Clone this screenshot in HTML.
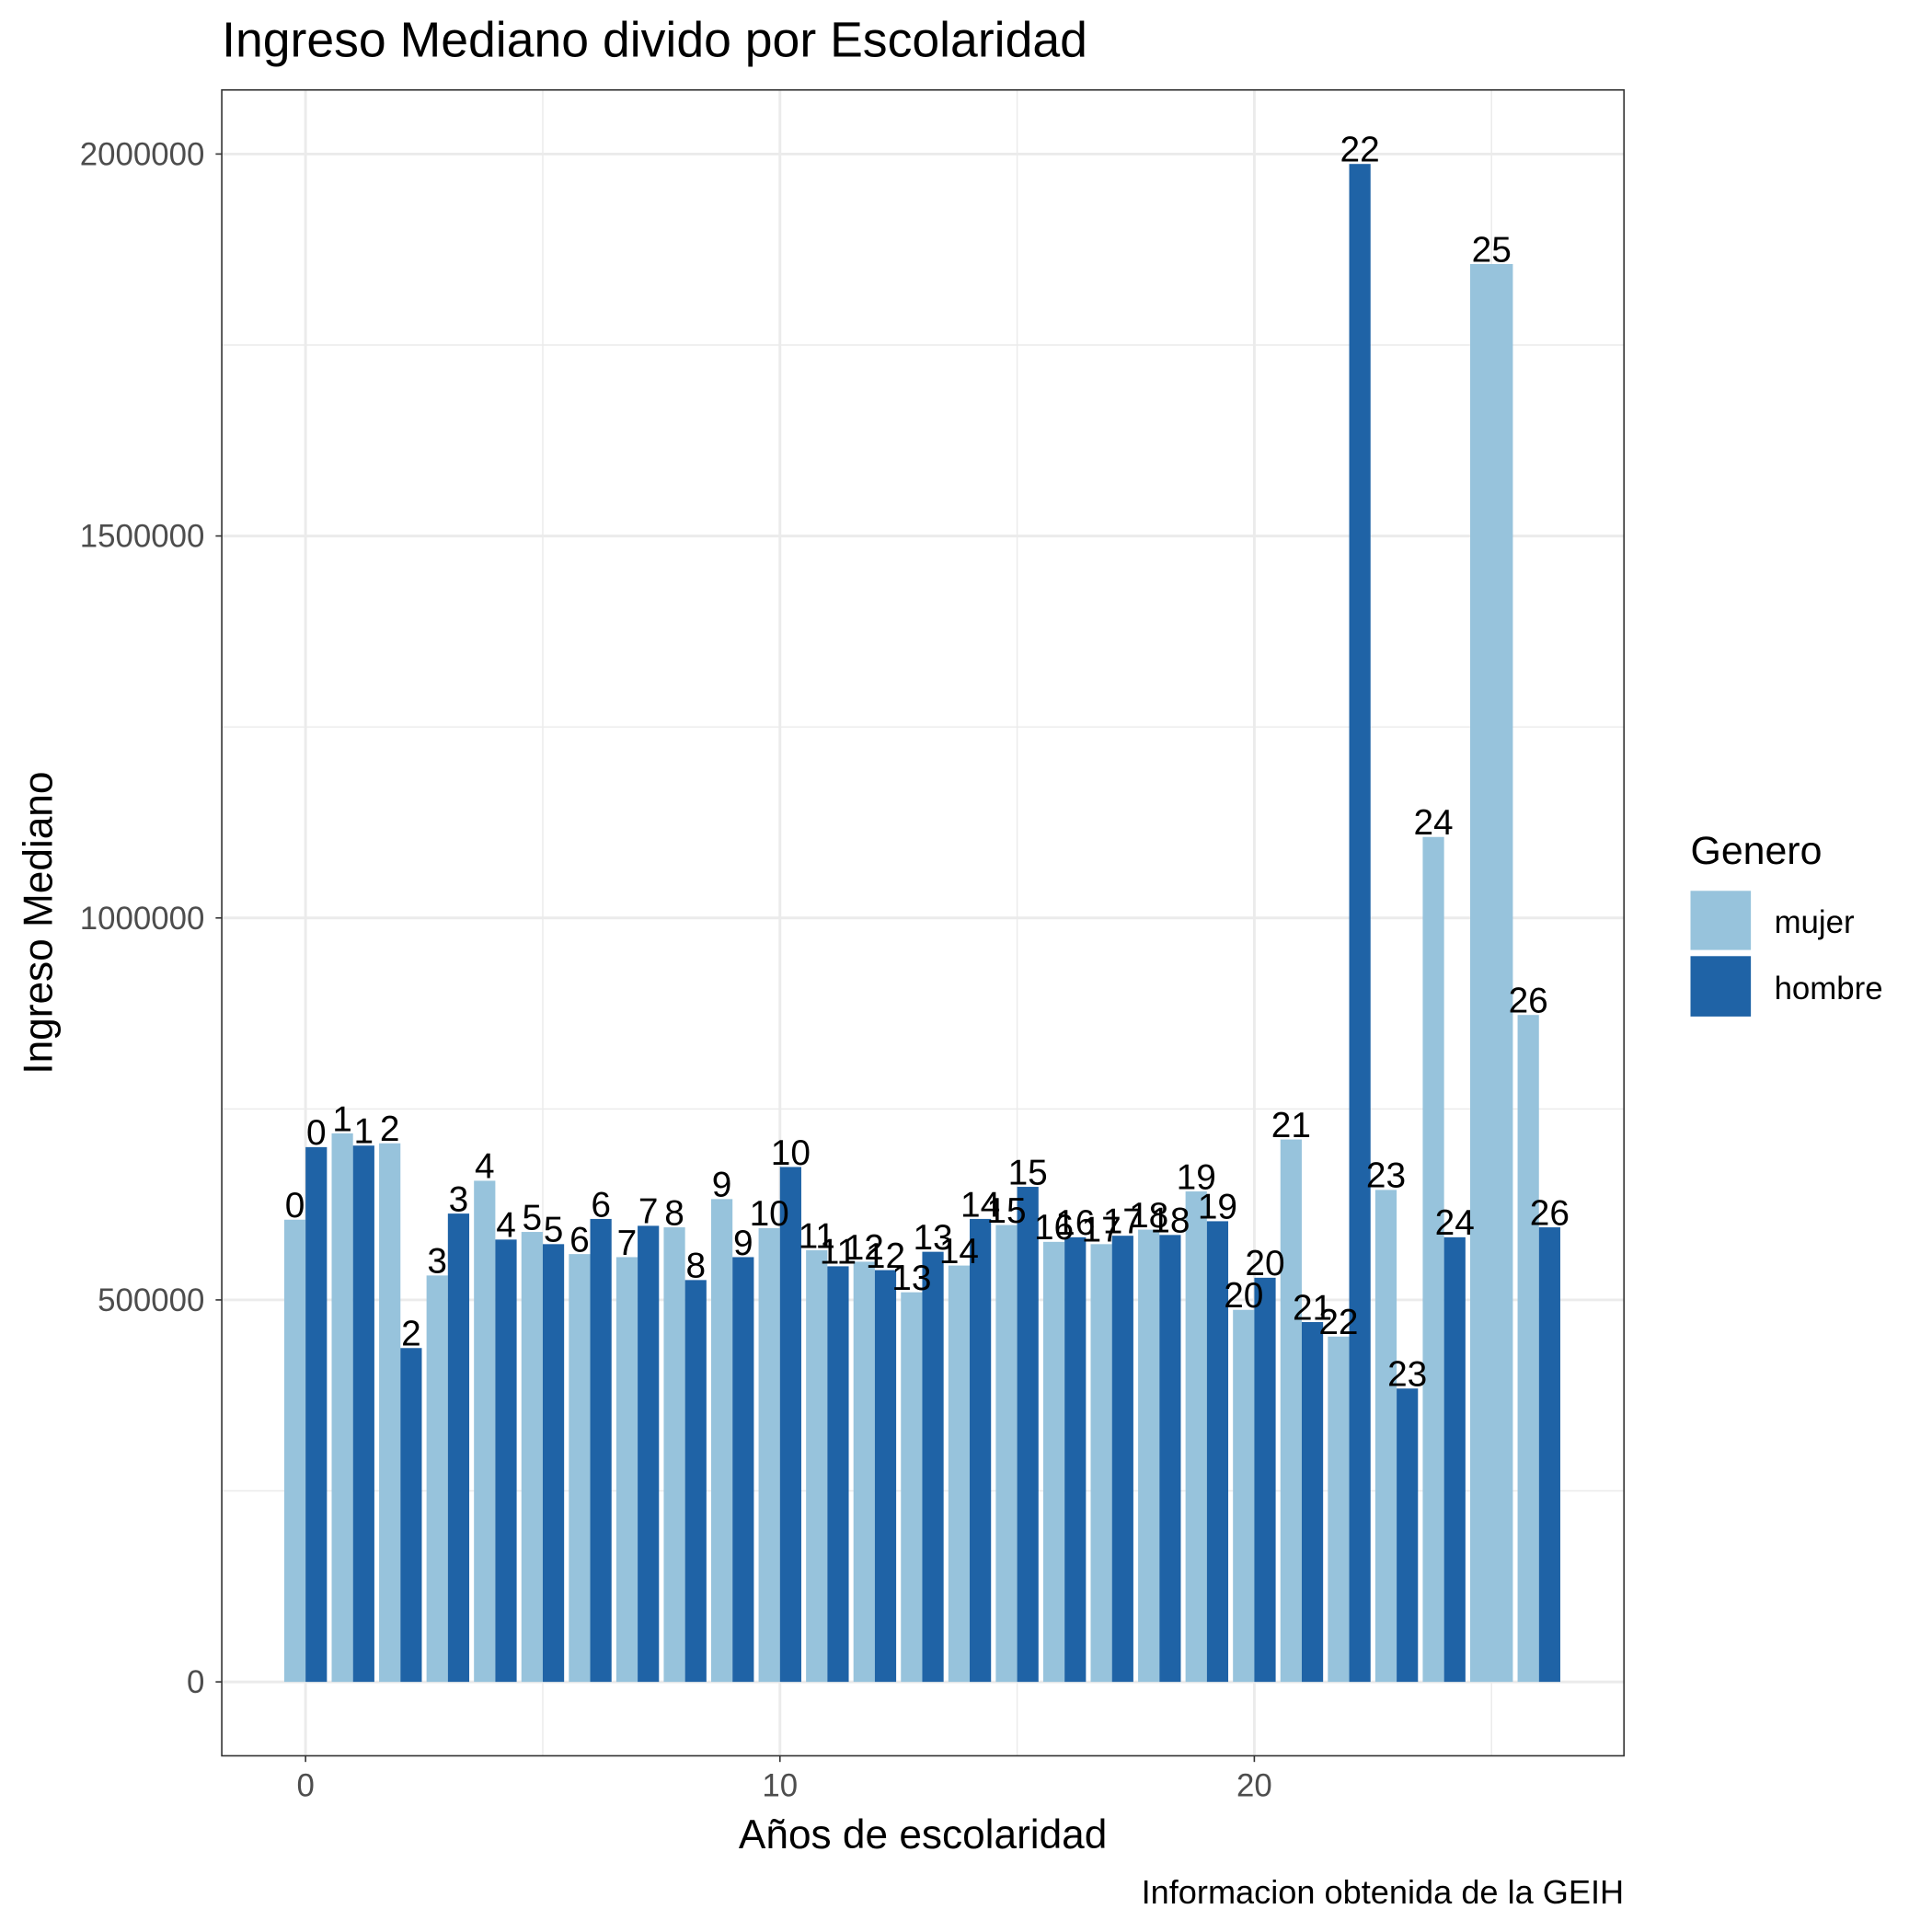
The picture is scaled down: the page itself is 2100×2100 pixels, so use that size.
<!DOCTYPE html>
<html><head><meta charset="utf-8"><style>html,body{margin:0;padding:0;background:#fff}svg{display:block}text{font-family:"Liberation Sans",Arial,sans-serif}</style></head>
<body>
<svg id="chart" width="2100" height="2100" viewBox="0 0 1568 1568" xmlns="http://www.w3.org/2000/svg">
<rect width="1568" height="1568" fill="#fff"/>
<g id="grid"></g>
<g id="bars"></g>
<g id="labels"></g>
<rect x="180" y="73" width="1138" height="1352" fill="none" stroke="#333" stroke-width="1.2"/>
<g id="axes"></g>
<text x="180" y="46" font-size="40" fill="#000">Ingreso Mediano divido por Escolaridad</text>
<text x="749" y="1500" font-size="33" text-anchor="middle">Años de escolaridad</text>
<text transform="translate(42,749) rotate(-90)" font-size="33" text-anchor="middle">Ingreso Mediano</text>
<text x="1318" y="1545" font-size="27" text-anchor="end">Informacion obtenida de la GEIH</text>
<g>
<text x="1372" y="701" font-size="32">Genero</text>
<rect x="1372" y="723" width="49" height="48" fill="#97c3dc"/>
<text x="1440" y="757" font-size="26">mujer</text>
<rect x="1372" y="776" width="49" height="49" fill="#1f63a6"/>
<text x="1440" y="811" font-size="26">hombre</text>
</g>
</svg>
<script>
const years=[0,1,2,3,4,5,6,7,8,9,10,11,12,13,14,15,16,17,18,19,20,21,22,23,24,25,26];
const mujer=[605000,718000,705000,532000,656000,589000,560000,556000,595000,632000,594000,565000,550000,510000,545000,598000,576000,573000,592000,642000,487000,710000,452000,644000,1106000,1856000,873000];
const hombre=[700000,702000,437000,613000,579000,573000,606000,597000,526000,556000,674000,544000,539000,563000,606000,648000,582000,584000,585000,603000,529000,471000,1987000,384000,582000,null,595000];
const yTicks=[0,500000,1000000,1500000,2000000];
const xTicks=[0,10,20];
const NS='http://www.w3.org/2000/svg';
const X=v=>248+v*38.5, Y=v=>1365-v*620/1e6;
function mk(tag,attrs,parent){const e=document.createElementNS(NS,tag);for(const k in attrs)e.setAttribute(k,attrs[k]);parent.appendChild(e);return e;}
const grid=document.getElementById('grid'),bars=document.getElementById('bars'),labels=document.getElementById('labels'),axes=document.getElementById('axes');
for(let v=-250000;v<=2250000;v+=250000){const y=Y(v);if(y<73||y>1425)continue;const major=v%500000===0;
const l=mk('line',{x1:180,x2:1318,y1:y,y2:y,stroke:'#ebebeb','stroke-width':major?2.2:1.1},grid);

}
for(let v=0;v<=25;v+=5){const x=X(v);const major=v%10===0;
const l=mk('line',{x1:x,x2:x,y1:73,y2:1425,stroke:'#ebebeb','stroke-width':major?2.2:1.1},grid);

}
const bw=0.45*38.5;
function drawBar(x0,w,v,color,name,label){
const r=mk('rect',{x:x0,y:Y(v),width:w,height:Y(0)-Y(v),fill:color},bars);


const t=mk('text',{x:x0+w/2,y:Y(v)-2,'font-size':29,'text-anchor':'middle',fill:'#000'},labels);
t.textContent=label;

}
years.forEach((yr,i)=>{const c=X(yr);
if(hombre[i]==null){if(mujer[i]!=null)drawBar(c-bw,bw*2,mujer[i],'#97c3dc','bar-mujer-'+yr,yr);return;}
if(mujer[i]==null){drawBar(c-bw,bw*2,hombre[i],'#1f63a6','bar-hombre-'+yr,yr);return;}
drawBar(c-bw,bw,mujer[i],'#97c3dc','bar-mujer-'+yr,yr);
drawBar(c,bw,hombre[i],'#1f63a6','bar-hombre-'+yr,yr);});
yTicks.forEach(v=>{const y=Y(v);
const tk=mk('line',{x1:175,x2:180,y1:y,y2:y,stroke:'#333','stroke-width':1.2},axes);


const t=mk('text',{x:166,y:y+9,'font-size':26,'text-anchor':'end',fill:'#4d4d4d'},axes);
t.textContent=v;

});
xTicks.forEach(v=>{const x=X(v);
const tk=mk('line',{x1:x,x2:x,y1:1425,y2:1430,stroke:'#333','stroke-width':1.2},axes);


const t=mk('text',{x:x,y:1458,'font-size':26,'text-anchor':'middle',fill:'#4d4d4d'},axes);
t.textContent=v;

});
</script>
</body></html>
